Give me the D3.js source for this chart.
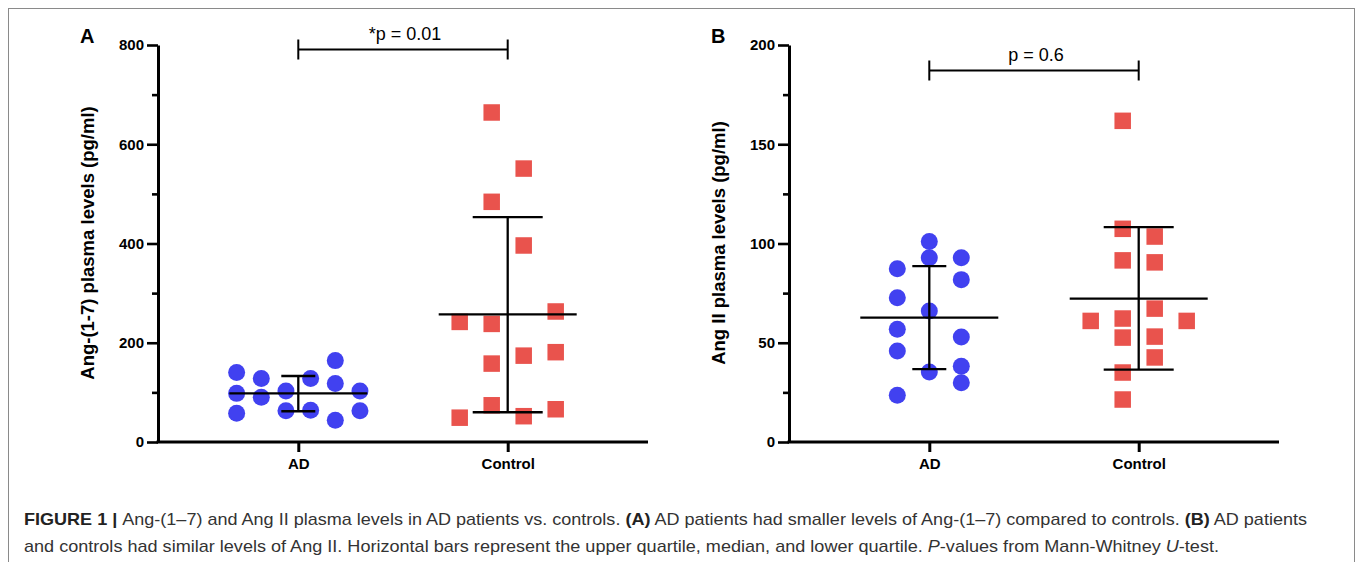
<!DOCTYPE html>
<html>
<head>
<meta charset="utf-8">
<script src="https://cdn.jsdelivr.net/npm/d3@7"></script>
<style>
  html, body { margin: 0; padding: 0; background: #fff; }
  svg { display: block; }
</style>
</head>
<body>
<svg id="chart" width="1357" height="562"></svg>
<script>
// ---------------- DATA ----------------
const categories = ["AD", "Control"];

// Panel A: Ang-(1-7) (pg/ml) — values with horizontal slot in the scatter column
const angA_AD_values  = [140, 98, 58, 128, 90, 103, 63, 128, 64, 164, 118, 44, 103, 63];
const angA_AD_slots   = [-2.5, -2.5, -2.5, -1.5, -1.5, -0.5, -0.5, 0.5, 0.5, 1.5, 1.5, 1.5, 2.5, 2.5];
const angA_Ctl_values = [242, 49, 664, 484, 238, 158, 74, 551, 396, 174, 52, 263, 181, 66];
const angA_Ctl_slots  = [-1.5, -1.5, -0.5, -0.5, -0.5, -0.5, -0.5, 0.5, 0.5, 0.5, 0.5, 1.5, 1.5, 1.5];
// [lower quartile, median, upper quartile]
const angA_AD_summary  = [62, 98, 133];
const angA_Ctl_summary = [60, 257, 453];
const angA_ticksMajor = [0, 200, 400, 600, 800];
const angA_ticksMinor = [100, 300, 500, 700];
const angA_pText = "*p = 0.01";

// Panel B: Ang II (pg/ml)
const angB_AD_values  = [87.3, 72.7, 56.8, 45.9, 23.6, 101, 92.8, 66, 35.3, 92.8, 81.8, 52.9, 38.2, 29.8];
const angB_AD_slots   = [-1, -1, -1, -1, -1, 0, 0, 0, 0, 1, 1, 1, 1, 1];
const angB_Ctl_values = [61, 161.8, 107.4, 91.5, 62.2, 52.6, 35, 21.4, 103.5, 90.5, 67.2, 53.1, 42.6, 61];
const angB_Ctl_slots  = [-1.5, -0.5, -0.5, -0.5, -0.5, -0.5, -0.5, -0.5, 0.5, 0.5, 0.5, 0.5, 0.5, 1.5];
const angB_AD_summary  = [36.7, 62.7, 88.6];
const angB_Ctl_summary = [36.5, 72.2, 108.2];
const angB_ticksMajor = [0, 50, 100, 150, 200];
const angB_ticksMinor = [25, 75, 125, 175];
const angB_pText = "p = 0.6";

// ---------------- DRAW ----------------
const svg = d3.select("#chart");
const BLUE = "#4141f0";
const RED = "#e9534d";

// outer frame
svg.append("rect")
  .attr("x", 8.5).attr("y", 8.5)
  .attr("width", 1346).attr("height", 570)
  .attr("fill", "none").attr("stroke", "#8a8a8a").attr("stroke-width", 1);

function panel(opts) {
  const g = svg.append("g");
  const y = d3.scaleLinear().domain([0, opts.yMax]).range([442, 45]);
  const x = d3.scalePoint().domain(categories).range([opts.x0, opts.x0 + 490]).padding(0.67);

  // y axis minor
  const yMinor = g.append("g").attr("transform", `translate(${opts.x0},0)`)
    .call(d3.axisLeft(y).tickValues(opts.minor).tickSize(6).tickSizeOuter(0).tickFormat(""));
  yMinor.select(".domain").remove();
  yMinor.selectAll("line").attr("stroke", "#000").attr("stroke-width", 2.6);

  const yAx = g.append("g").attr("transform", `translate(${opts.x0},0)`)
    .call(d3.axisLeft(y).tickValues(opts.major).tickSize(11).tickSizeOuter(0).tickPadding(3));
  yAx.select(".domain").attr("stroke", "#000").attr("stroke-width", 3);
  yAx.selectAll("line").attr("stroke", "#000").attr("stroke-width", 2.6);
  yAx.selectAll("text").attr("font-family", "Liberation Sans, Arial, sans-serif")
    .attr("font-weight", "bold").attr("font-size", 15).attr("fill", "#000");

  // x axis
  const xAx = g.append("g").attr("transform", `translate(0,442)`)
    .call(d3.axisBottom(x).tickSize(10).tickSizeOuter(0).tickPadding(6));
  xAx.select(".domain").attr("stroke", "#000").attr("stroke-width", 3)
    .attr("d", `M${opts.x0 - 1.5},0H${opts.x0 + 490}`);
  xAx.selectAll("line").attr("stroke", "#000").attr("stroke-width", 3);
  xAx.selectAll("text").attr("font-family", "Liberation Sans, Arial, sans-serif")
    .attr("font-weight", "bold").attr("font-size", 15).attr("fill", "#000");

  // y label
  g.append("text")
    .attr("transform", `translate(${opts.x0 - 64},243) rotate(-90)`)
    .attr("text-anchor", "middle")
    .attr("font-family", "Liberation Sans, Arial, sans-serif")
    .attr("font-weight", "bold").attr("font-size", 18.5).attr("fill", "#000")
    .text(opts.ylabel);

  // panel letter
  g.append("text").attr("x", opts.x0 - 78).attr("y", 43)
    .attr("font-family", "Liberation Sans, Arial, sans-serif")
    .attr("font-weight", "bold").attr("font-size", 20).attr("fill", "#000")
    .text(opts.letter);

  // points
  const colWidth = 148;
  function spacing(slots) {
    const n = new Set(slots).size;
    return Math.min(32, colWidth / n);
  }
  const sA = spacing(opts.adSlots);
  g.append("g").selectAll("circle")
    .data(opts.adValues.map((v, i) => ({ v, s: opts.adSlots[i] })))
    .join("circle")
    .attr("cx", d => x("AD") + d.s * sA)
    .attr("cy", d => y(d.v))
    .attr("r", 8.5)
    .attr("fill", BLUE);

  const sC = spacing(opts.ctlSlots);
  const sq = 16.5;
  g.append("g").selectAll("rect")
    .data(opts.ctlValues.map((v, i) => ({ v, s: opts.ctlSlots[i] })))
    .join("rect")
    .attr("x", d => x("Control") + d.s * sC - sq / 2)
    .attr("y", d => y(d.v) - sq / 2)
    .attr("width", sq).attr("height", sq)
    .attr("fill", RED);

  // summary lines
  const capHalf = { "AD": 17, "Control": 35 };
  [["AD", opts.adSum], ["Control", opts.ctlSum]].forEach(([cat, s]) => {
    const cx = x(cat);
    const sg = g.append("g").attr("stroke", "#000").attr("stroke-width", 2.3).attr("fill", "none");
    sg.append("line").attr("x1", cx).attr("x2", cx).attr("y1", y(s[0])).attr("y2", y(s[2]));
    sg.append("line").attr("x1", cx - 69).attr("x2", cx + 69).attr("y1", y(s[1])).attr("y2", y(s[1]));
    sg.append("line").attr("x1", cx - capHalf[cat]).attr("x2", cx + capHalf[cat]).attr("y1", y(s[0])).attr("y2", y(s[0]));
    sg.append("line").attr("x1", cx - capHalf[cat]).attr("x2", cx + capHalf[cat]).attr("y1", y(s[2])).attr("y2", y(s[2]));
  });

  // significance bracket
  const by = Math.round(y(opts.bracketAt)) + 0.5;
  const xa = x("AD"), xc = x("Control");
  g.append("path")
    .attr("d", `M${xa},${by - 10}V${by + 10}M${xa},${by}H${xc}M${xc},${by - 10}V${by + 10}`)
    .attr("stroke", "#000").attr("stroke-width", 2).attr("fill", "none");
  g.append("text").attr("x", (xa + xc) / 2 + 2).attr("y", by - 9.5)
    .attr("text-anchor", "middle")
    .attr("font-family", "Liberation Sans, Arial, sans-serif")
    .attr("font-size", 18).attr("fill", "#000")
    .text(opts.pText);
}

panel({
  x0: 158, yMax: 800, major: angA_ticksMajor, minor: angA_ticksMinor,
  ylabel: "Ang-(1-7) plasma levels (pg/ml)", letter: "A",
  adValues: angA_AD_values, adSlots: angA_AD_slots,
  ctlValues: angA_Ctl_values, ctlSlots: angA_Ctl_slots,
  adSum: angA_AD_summary, ctlSum: angA_Ctl_summary,
  bracketAt: 792, pText: angA_pText
});

panel({
  x0: 789, yMax: 200, major: angB_ticksMajor, minor: angB_ticksMinor,
  ylabel: "Ang II plasma levels (pg/ml)", letter: "B",
  adValues: angB_AD_values, adSlots: angB_AD_slots,
  ctlValues: angB_Ctl_values, ctlSlots: angB_Ctl_slots,
  adSum: angB_AD_summary, ctlSum: angB_Ctl_summary,
  bracketAt: 187.3, pText: angB_pText
});

// ---------------- CAPTION ----------------
const captionLines = [
  [["FIGURE 1 | ", "b"], ["Ang-(1–7) and Ang II plasma levels in AD patients vs. controls. ", ""], ["(A)", "b"],
   [" AD patients had smaller levels of Ang-(1–7) compared to controls. ", ""], ["(B)", "b"], [" AD patients", ""]],
  [["and controls had similar levels of Ang II. Horizontal bars represent the upper quartile, median, and lower quartile. ", ""],
   ["P", "i"], ["-values from Mann-Whitney ", ""], ["U", "i"], ["-test.", ""]]
];
const captionWidths = [1283, 1195];
captionLines.forEach((line, li) => {
  const t = svg.append("text")
    .attr("x", 24).attr("y", 525 + li * 27)
    .attr("font-family", "Liberation Sans, Arial, sans-serif")
    .attr("font-size", 17).attr("fill", "#333")
    .attr("textLength", captionWidths[li]).attr("lengthAdjust", "spacingAndGlyphs");
  line.forEach(([txt, st]) => {
    t.append("tspan")
      .attr("font-weight", st === "b" ? "bold" : null)
      .attr("font-style", st === "i" ? "italic" : null)
      .attr("fill", st === "b" ? "#222" : null)
      .text(txt);
  });
});
</script>
</body>
</html>
